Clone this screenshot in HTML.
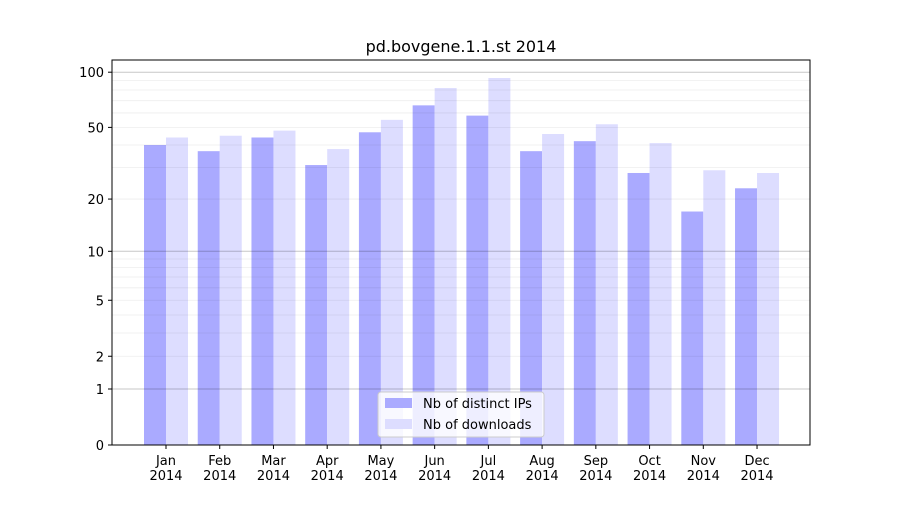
<!DOCTYPE html>
<html><head><meta charset="utf-8"><style>
body{margin:0;background:#fff;font-family:"Liberation Sans","DejaVu Sans",sans-serif}
svg text{font-family:"DejaVu Sans","Liberation Sans",sans-serif;font-size:13px;fill:#000}
</style></head><body>
<svg id="chart" width="900" height="500">
<rect width="900" height="500" fill="#fff"/>
<text x="461" y="52" text-anchor="middle" style="font-size:16px">pd.bovgene.1.1.st 2014</text>
<g id="bars"></g><g id="grid"></g><g id="axes"></g>
<g>
<rect x="378" y="392" width="166" height="45" fill="#fff" fill-opacity="0.8" stroke="#ccc" rx="3"/>
<rect x="385" y="398" width="27" height="10" fill="#aaaaff"/>
<text x="423" y="408">Nb of distinct IPs</text>
<rect x="385" y="419" width="27" height="10" fill="#ddddff"/>
<text x="423" y="429">Nb of downloads</text>
</g>
</svg>
<script>
const months=["Jan","Feb","Mar","Apr","May","Jun","Jul","Aug","Sep","Oct","Nov","Dec"];
const ips=[40,37,44,31,47,66,58,37,42,28,17,23];
const downloads=[44,45,48,38,55,82,93,46,52,41,29,28];
const yTicks=[0,1,2,5,10,20,50,100];
const NS="http://www.w3.org/2000/svg";
const L=112,R=810,T=60,B=445;
function y(v){return B-186*Math.log10(1+v);}
function xc(i){return 166+i*53.73;}
function mk(tag,attrs,parent){const e=document.createElementNS(NS,tag);for(const k in attrs)e.setAttribute(k,attrs[k]);parent.appendChild(e);return e;}
const grid=document.getElementById('grid'),bars=document.getElementById('bars'),axes=document.getElementById('axes');
const minors=[];for(let d=1;d<=100;d*=10)for(let m=2;m<=9;m++){if(m*d<=117)minors.push(m*d);}
minors.forEach(v=>{const g=mk('line',{x1:L,x2:R,y1:y(v),y2:y(v),stroke:'#000','stroke-opacity':0.07,'stroke-width':0.8},grid);

});
[1,10,100].forEach(v=>{const g=mk('line',{x1:L,x2:R,y1:y(v),y2:y(v),stroke:'#000','stroke-opacity':0.22,'stroke-width':1},grid);

});
months.forEach((m,i)=>{
 const a=mk('rect',{x:xc(i)-22,y:y(ips[i]),width:22,height:B-y(ips[i]),fill:'#aaaaff'},bars);
 
 
 const b=mk('rect',{x:xc(i),y:y(downloads[i]),width:22,height:B-y(downloads[i]),fill:'#ddddff'},bars);
 
 
 mk('line',{x1:xc(i),x2:xc(i),y1:B,y2:B+4,stroke:'#000'},axes);
 const t=mk('text',{x:xc(i),y:B+20,'text-anchor':'middle'},axes);
 t.textContent=m;
 
 
 const t2=mk('text',{x:xc(i),y:B+35,'text-anchor':'middle'},axes);
 t2.textContent='2014';
 
 
});
yTicks.forEach(v=>{
 mk('line',{x1:L-4,x2:L,y1:y(v),y2:y(v),stroke:'#000'},axes);
 const t=mk('text',{x:L-8,y:y(v)+5,'text-anchor':'end'},axes);
 t.textContent=v;
 
 
});
const f=mk('rect',{x:L,y:T,width:R-L,height:B-T,fill:'none',stroke:'#000','stroke-width':1},axes);


</script>
</body></html>
